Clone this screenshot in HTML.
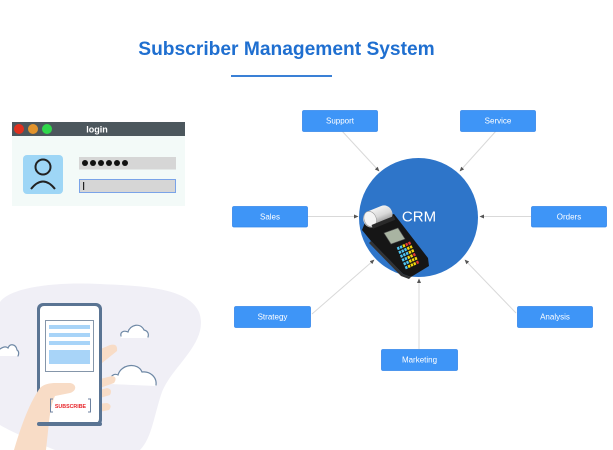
<!DOCTYPE html>
<html><head><meta charset="utf-8"><style>
html,body{margin:0;padding:0;background:#fff;}
svg{display:block;}
text{font-family:"Liberation Sans",Arial,sans-serif;}
</style></head><body>
<svg width="613" height="450" viewBox="0 0 613 450" xmlns="http://www.w3.org/2000/svg">
<defs>
<marker id="ah" markerWidth="5" markerHeight="5" refX="4" refY="2.5" orient="auto" markerUnits="userSpaceOnUse">
<path d="M0,0.5 L4.5,2.5 L0,4.5 Z" fill="#555"/>
</marker>
<linearGradient id="roll" x1="0" y1="0" x2="0" y2="1">
<stop offset="0" stop-color="#f2f2f2"/><stop offset="0.5" stop-color="#d8d8d8"/><stop offset="1" stop-color="#8c8c8c"/>
</linearGradient>
</defs>

<!-- Title -->
<text x="286.5" y="55" text-anchor="middle" font-size="19.2" font-weight="bold" fill="#1f6fd0">Subscriber Management System</text>
<rect x="231" y="75" width="101" height="2" fill="#3a80d6"/>

<!-- Login window -->
<rect x="12" y="122" width="173" height="14" fill="#4c575d"/>
<rect x="12" y="136" width="173" height="70" fill="#f3faf8"/>
<circle cx="19" cy="129" r="5" fill="#e0311f"/>
<circle cx="33" cy="129" r="5" fill="#e2942c"/>
<circle cx="47" cy="129" r="5" fill="#2fd84b"/>
<text x="97" y="132.5" text-anchor="middle" font-size="9" font-weight="bold" fill="#fff">login</text>
<rect x="23" y="155" width="40" height="39" rx="4" fill="#9ed6f6"/>
<circle cx="43" cy="167" r="7.5" fill="none" stroke="#222" stroke-width="2"/>
<path d="M31,189 Q43,174 55,189" fill="none" stroke="#222" stroke-width="2"/>
<rect x="79" y="157" width="97" height="12.5" fill="#d6d6d6"/>
<g fill="#111">
<circle cx="85" cy="163" r="3"/><circle cx="93" cy="163" r="3"/><circle cx="101" cy="163" r="3"/>
<circle cx="109" cy="163" r="3"/><circle cx="117" cy="163" r="3"/><circle cx="125" cy="163" r="3"/>
</g>
<rect x="79.5" y="179.5" width="96" height="13" fill="#d6d6d6" stroke="#7aa3e8" stroke-width="1"/>
<rect x="83" y="182" width="1.2" height="8" fill="#222"/>

<!-- Illustration blob -->
<path d="M0,302 C12,286 60,282 100,284 C145,286 188,288 199,312 C210,342 172,366 162,392 C154,415 152,438 140,450 L55,450 C30,440 8,430 0,425 Z" fill="#f0eff6"/>

<!-- clouds -->
<g fill="#fff" stroke="#6e88a5" stroke-width="1.2" stroke-linecap="round">
<path d="M121,338 C119,333 124,330 128,332 C130,325 140,322 144,330 C149,330 150,335 148,338 Z" stroke="none"/>
<path d="M121,336 C120,332 124,330 128,332 C130,325 140,322 144,330 C148,331 149,334 148,337" fill="none"/>
<path d="M110,384 C108,377 113,373 118,375 C121,364 138,362 142,372 C150,370 158,377 156,386 Z" stroke="none"/>
<path d="M111,381 C110,376 114,373 118,375 C121,364 138,362 142,372 C150,371 157,377 156,385" fill="none"/>
<path d="M0,356 L0,349 C3,347 6,346 8,348 C10,343 16,344 17,350 C19,351 19,354 18,356 Z" stroke="none"/>
<path d="M0,349 C3,347 6,346 8,348 C10,343 16,344 17,350 C19,351 19,354 18,356" fill="none"/>
</g>

<!-- fingers behind phone -->
<g fill="#f8dcc6">
<path d="M96,351 L110,345 Q118,343 117,351 L102,363 Z"/>
<path d="M96,380 L112,376 Q118,377 114,383 L100,388 Z"/>
<path d="M96,391 L107,388 Q113,389 110,395 L100,398 Z"/>
<path d="M96,404 L107,403 Q113,405 109,410 L99,412 Z"/>
</g>

<!-- phone -->
<rect x="37" y="303" width="65" height="123" rx="6" fill="#5a7493"/>
<rect x="40" y="306" width="59" height="117" rx="4" fill="#fff"/>
<rect x="45.5" y="320.5" width="48" height="51" fill="#fff" stroke="#8596aa" stroke-width="1"/>
<g fill="#a8d4f8">
<rect x="49" y="325" width="41" height="4"/>
<rect x="49" y="333" width="41" height="4"/>
<rect x="49" y="341" width="41" height="4"/>
<rect x="49" y="350" width="41" height="14"/>
</g>

<!-- hand -->
<path d="M14,450 C20,430 28,405 40,388 C44,384 50,383 56,383 L70,383 C77,384 77,391 70,393 L55,396 C52,402 50,412 49,422 L46,450 Z" fill="#f8dcc6"/>
<rect x="37" y="422" width="65" height="4" rx="2" fill="#5a7493"/>

<!-- subscribe -->
<g fill="none" stroke="#6e82a0" stroke-width="1">
<path d="M53,399 L50.5,399 L50.5,412 L53,412"/>
<path d="M88,399 L90.5,399 L90.5,412 L88,412"/>
</g>
<text x="70.5" y="408" text-anchor="middle" font-size="5.3" font-weight="bold" fill="#e8262b">SUBSCRIBE</text>

<!-- connectors -->
<g stroke="#d9d9d9" stroke-width="1" fill="none" marker-end="url(#ah)">
<line x1="342" y1="131" x2="379" y2="171"/>
<line x1="496" y1="131" x2="460" y2="171"/>
<line x1="307" y1="216.5" x2="358" y2="216.5"/>
<line x1="531" y1="216.5" x2="480" y2="216.5"/>
<line x1="312" y1="314" x2="374" y2="260"/>
<line x1="516" y1="313" x2="465" y2="260"/>
<line x1="419" y1="349" x2="419" y2="279"/>
</g>

<!-- CRM circle -->
<circle cx="418.5" cy="217.5" r="59.5" fill="#2e75c9"/>
<text x="419" y="221.5" text-anchor="middle" font-size="15" fill="#fff">CRM</text>

<!-- POS device -->
<path d="M366,220 L394,214 L428,258 L429,266 L411,277 L403,274 L371,241 L362,230 Z" fill="#161616"/>
<path d="M371,241 L403,274 L411,277 L409,279 L401,276 L369,243 Z" fill="#333"/>
<g transform="translate(378,217) rotate(-22)">
<rect x="-15" y="-9" width="30" height="17" rx="8" fill="url(#roll)"/>
<ellipse cx="-8" cy="-1" rx="6" ry="8" fill="#f4f4f4" stroke="#9a9a9a" stroke-width="0.6"/>
<rect x="-9" y="5" width="24" height="4" fill="#2a2a2a"/>
</g>
<polygon points="384,233 398,228 405,239 391,244" fill="#a9b4a2" stroke="#555" stroke-width="0.6"/>
<g transform="matrix(14,-6.5,10,24,396,247)">
<g fill="#4fc6f2">
<rect x="0.03" y="0.03" width="0.15" height="0.11"/><rect x="0.23" y="0.03" width="0.15" height="0.11"/>
<rect x="0.03" y="0.19" width="0.15" height="0.11"/><rect x="0.23" y="0.19" width="0.15" height="0.11"/><rect x="0.43" y="0.19" width="0.15" height="0.11"/>
<rect x="0.03" y="0.35" width="0.15" height="0.11"/><rect x="0.23" y="0.35" width="0.15" height="0.11"/><rect x="0.43" y="0.35" width="0.15" height="0.11"/>
<rect x="0.03" y="0.51" width="0.15" height="0.11"/><rect x="0.23" y="0.51" width="0.15" height="0.11"/>
<rect x="0.03" y="0.67" width="0.15" height="0.11"/><rect x="0.23" y="0.67" width="0.15" height="0.11"/>
<rect x="0.03" y="0.83" width="0.15" height="0.11"/>
</g>
<g fill="#f3d80c">
<rect x="0.43" y="0.03" width="0.15" height="0.11"/><rect x="0.63" y="0.19" width="0.15" height="0.11"/>
<rect x="0.63" y="0.35" width="0.15" height="0.11"/><rect x="0.43" y="0.51" width="0.15" height="0.11"/><rect x="0.63" y="0.51" width="0.15" height="0.11"/>
<rect x="0.43" y="0.67" width="0.15" height="0.11"/><rect x="0.63" y="0.67" width="0.15" height="0.11"/>
<rect x="0.23" y="0.83" width="0.15" height="0.11"/><rect x="0.43" y="0.83" width="0.15" height="0.11"/><rect x="0.63" y="0.83" width="0.15" height="0.11"/>
<rect x="0.83" y="0.19" width="0.15" height="0.11"/><rect x="0.83" y="0.35" width="0.15" height="0.11"/><rect x="0.83" y="0.67" width="0.15" height="0.11"/>
</g>
<g fill="#e53935">
<rect x="0.63" y="0.03" width="0.15" height="0.11"/><rect x="0.83" y="0.03" width="0.15" height="0.11"/>
<rect x="0.83" y="0.51" width="0.15" height="0.11"/><rect x="0.83" y="0.83" width="0.15" height="0.11"/>
</g>
</g>

<!-- nodes -->
<g fill="#3e95f7" stroke="#3486ea" stroke-width="0.8">
<rect x="302.5" y="110.5" width="75" height="21" rx="1.5"/>
<rect x="460.5" y="110.5" width="75" height="21" rx="1.5"/>
<rect x="232.5" y="206.5" width="75" height="20.5" rx="1.5"/>
<rect x="531.5" y="206.5" width="75" height="20.5" rx="1.5"/>
<rect x="234.5" y="306.5" width="76" height="21" rx="1.5"/>
<rect x="517.5" y="306.5" width="75" height="21" rx="1.5"/>
<rect x="381.5" y="349.5" width="76" height="21" rx="1.5"/>
</g>
<g fill="#fff" font-size="8" text-anchor="middle">
<text x="340" y="123.5">Support</text>
<text x="498" y="123.5">Service</text>
<text x="270" y="219.5">Sales</text>
<text x="569" y="219.5">Orders</text>
<text x="272.5" y="319.5">Strategy</text>
<text x="555" y="319.5">Analysis</text>
<text x="419.5" y="362.5">Marketing</text>
</g>
</svg>
</body></html>
